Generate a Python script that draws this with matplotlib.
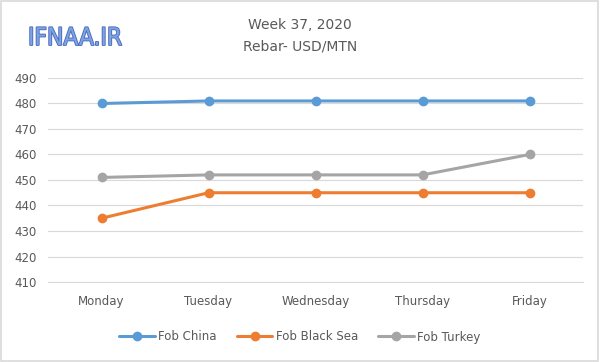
import matplotlib
matplotlib.use("Agg")
import matplotlib.pyplot as plt
import matplotlib.patheffects as pe

days = ["Monday", "Tuesday", "Wednesday", "Thursday", "Friday"]
fob_china = [480, 481, 481, 481, 481]
fob_black_sea = [435, 445, 445, 445, 445]
fob_turkey = [451, 452, 452, 452, 460]
series_names = ["Fob China", "Fob Black Sea", "Fob Turkey"]
yticks = [410, 420, 430, 440, 450, 460, 470, 480, 490]

colors = ["#5B9BD5", "#ED7D31", "#A5A5A5"]
txt = "#595959"

fig = plt.figure(figsize=(6, 3.62), dpi=100)
fig.patch.set_facecolor("white")
ax = fig.add_axes([48/600, 80/362, 535/600, 204/362])

x = list(range(len(days)))
for vals, name, c in zip([fob_china, fob_black_sea, fob_turkey], series_names, colors):
    ax.plot(x, vals, color=c, lw=2.2, marker="o", ms=6, label=name,
            solid_capstyle="round")

ax.set_xlim(-0.5, len(days) - 0.5)
ax.set_ylim(410, 490)
ax.set_yticks(yticks)
ax.set_xticks(x)
ax.set_xticklabels(days)
ax.grid(axis="y", color="#D9D9D9", lw=0.8)
ax.set_axisbelow(True)
for s in ["top", "right", "left"]:
    ax.spines[s].set_visible(False)
ax.spines["bottom"].set_color("#D9D9D9")
ax.spines["bottom"].set_linewidth(0.8)
ax.tick_params(axis="both", length=0, colors=txt, labelsize=8.5)
ax.tick_params(axis="x", pad=9)
ax.tick_params(axis="y", pad=8)

fig.text(0.5, 1 - 25/362, "Week 37, 2020", ha="center", va="center", color=txt, fontsize=10)
fig.text(0.5, 1 - 46/362, "Rebar- USD/MTN", ha="center", va="center", color=txt, fontsize=10)

fig.text(28/600, 1 - 38/362, "IFNAA.IR", ha="left", va="center", color="#7FA2E0",
         fontsize=17.5, fontstretch="condensed",
         path_effects=[pe.withStroke(linewidth=1.3, foreground="#4A6CC0")])

leg = fig.legend(loc="center", bbox_to_anchor=(0.5, 1 - 337/362), ncol=3, frameon=False,
                 fontsize=8.5, handlelength=3, columnspacing=1.7, handletextpad=0.3)
for t in leg.get_texts():
    t.set_color(txt)

fig.add_artist(plt.Rectangle((0.002, 0.003), 0.995, 0.993, transform=fig.transFigure,
                             fill=False, edgecolor="#D9D9D9", lw=1.2))

fig.savefig("out.png", dpi=100)
